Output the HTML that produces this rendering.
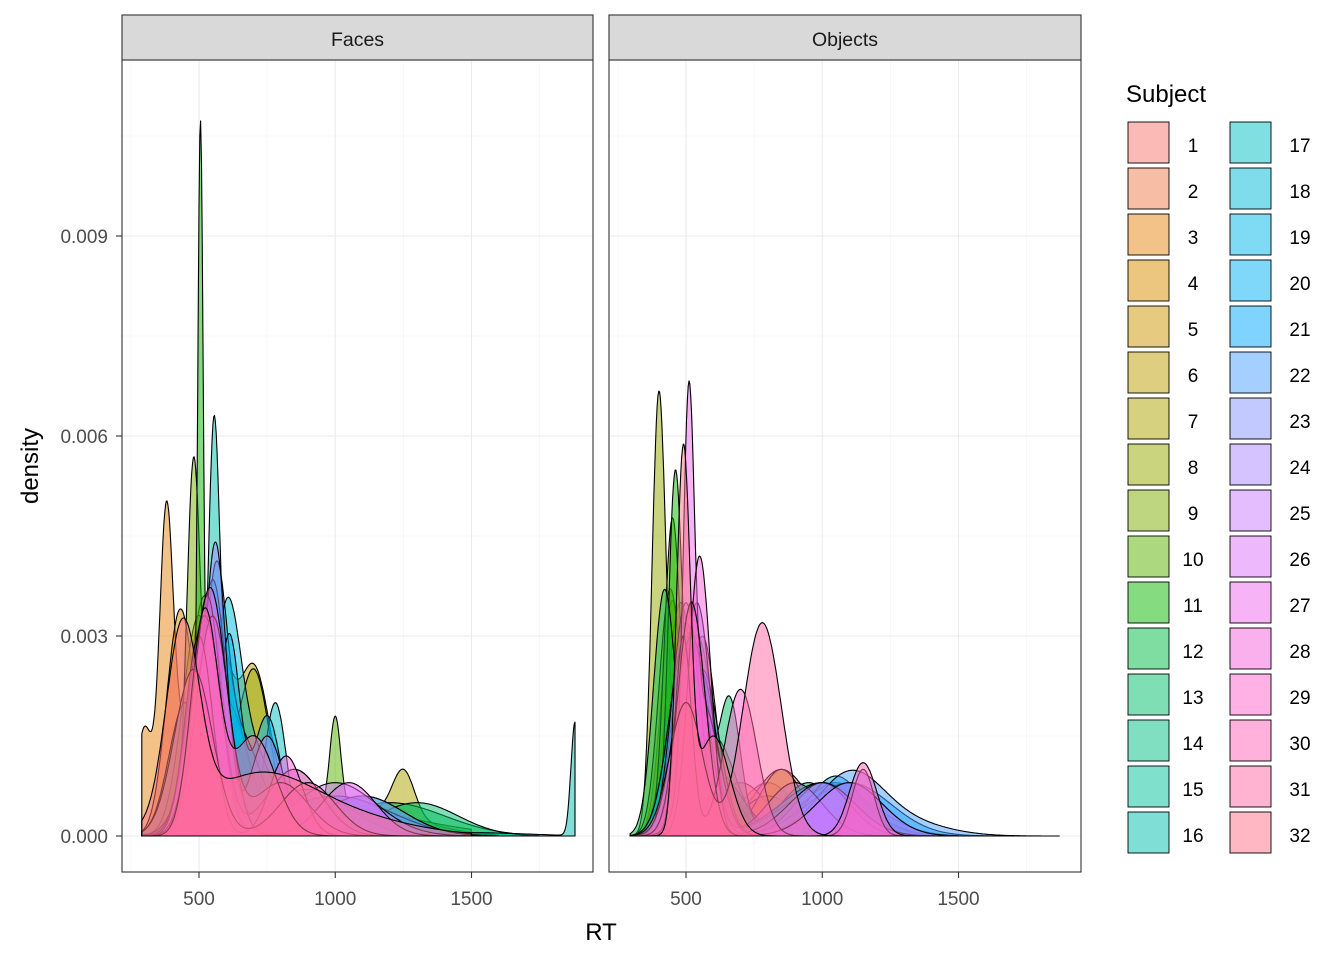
<!DOCTYPE html>
<html><head><meta charset="utf-8"><style>
body{margin:0;background:#fff}
svg{display:block;font-family:"Liberation Sans",Arial,sans-serif}
</style></head><body>
<svg id="s" width="1344" height="960" xmlns="http://www.w3.org/2000/svg"></svg>
<script>
const NS="http://www.w3.org/2000/svg";
const S=document.getElementById('s');
function el(t,a,txt){const e=document.createElementNS(NS,t);for(const k in a)e.setAttribute(k,a[k]);if(txt!=null)e.textContent=txt;S.appendChild(e);return e;}
function hcl(h){const L=65,C=100,hr=h*Math.PI/180;const u=C*Math.cos(hr),v=C*Math.sin(hr);
const Xn=95.047,Yn=100,Zn=108.883;const d=Xn+15*Yn+3*Zn,un=4*Xn/d,vn=9*Yn/d;
const Y=Yn*Math.pow((L+16)/116,3);const up=u/(13*L)+un,vp=v/(13*L)+vn;
const X=Y*9*up/(4*vp),Z=Y*(12-3*up-20*vp)/(4*vp);
const x=X/100,y=Y/100,z=Z/100;
let r=3.2406*x-1.5372*y-0.4986*z,g=-0.9689*x+1.8758*y+0.0415*z,b=0.0557*x-0.2040*y+1.0570*z;
const gm=c=>{c=c<=0.0031308?12.92*c:1.055*Math.pow(c,1/2.4)-0.055;return Math.round(Math.max(0,Math.min(1,c))*255)};
return `rgb(${gm(r)},${gm(g)},${gm(b)})`;}
const cols=[];for(let i=0;i<32;i++)cols.push(hcl(15+i*11.25));
const Y0=836,YS=200/0.003;
const panels=[{x0:122,x1:593,ox:199},{x0:609,x1:1081,ox:686}];
const PX=0.2725;
panels.forEach((p,pi)=>{
 el('rect',{x:p.x0,y:60,width:p.x1-p.x0,height:812,fill:'#fff'});
 [0.0015,0.0045,0.0075,0.0105].forEach(v=>el('line',{x1:p.x0,x2:p.x1,y1:Y0-v*YS,y2:Y0-v*YS,stroke:'#f2f2f2','stroke-width':0.6}));
 [250,750,1250,1750].forEach(v=>{const x=p.ox+(v-500)*PX;el('line',{x1:x,x2:x,y1:60,y2:872,stroke:'#f2f2f2','stroke-width':0.6})});
 [0,0.003,0.006,0.009].forEach(v=>el('line',{x1:p.x0,x2:p.x1,y1:Y0-v*YS,y2:Y0-v*YS,stroke:'#ebebeb','stroke-width':1.1}));
 [500,1000,1500].forEach(v=>{const x=p.ox+(v-500)*PX;el('line',{x1:x,x2:x,y1:60,y2:872,stroke:'#ebebeb','stroke-width':1.1})});
});
function G(x,c){let s=0;for(const[m,sd,h]of c)s+=h*1e-3*Math.exp(-0.5*((x-m)/sd)**2);return s;}
const faces=[
[1400,[[520,60,3.5],[800,150,0.6]]],[1300,[[540,70,3.0],[850,100,1.0]]],[1200,[[380,25,4.6],[300,30,1.6],[450,40,1.5],[700,150,0.5]]],
[1200,[[430,50,3.3],[600,80,1]]],[1300,[[500,60,3.3],[800,100,0.8]]],[1300,[[560,50,3.0],[700,60,2.5],[900,80,0.6]]],
[1600,[[520,50,3.3],[1250,40,0.7],[1100,200,0.4]]],[1300,[[700,60,2.5],[530,50,2.5]]],[1300,[[480,25,5.2],[600,80,1.5]]],
[1500,[[550,60,3],[1000,20,1.4],[1000,300,0.4]]],[1700,[[505,10,9.9],[560,40,2],[900,200,0.5]]],[1700,[[450,60,2],[1200,200,0.5]]],
[1750,[[530,60,3.3],[1300,150,0.5]]],[1600,[[560,80,3],[1000,200,0.6]]],[1500,[[520,60,3],[1100,150,0.6]]],
[1880,[[555,20,4.6],[600,80,2],[1880,15,1.7],[1500,200,0.05]]],[1300,[[540,50,3.3],[780,40,2]]],[1200,[[600,50,3.0],[700,80,1.2]]],
[1200,[[560,40,3.3],[650,80,1.5]]],[1300,[[610,40,3.0],[750,50,1.8]]],[1400,[[550,50,3.8],[900,150,0.7]]],
[1500,[[520,60,3],[1000,200,0.6]]],[1600,[[540,50,3.3],[1100,150,0.6]]],[1300,[[560,40,4.4],[750,60,1.5]]],
[1500,[[530,50,3.6],[1000,150,0.8]]],[1400,[[520,60,3.3],[850,100,1]]],[1500,[[550,60,3.3],[1050,100,0.8]]],
[1300,[[500,50,3],[820,60,1.2]]],[1300,[[540,60,3.7],[800,100,0.8]]],[1400,[[480,70,2.5],[900,100,0.8]]],
[1300,[[520,50,3.3],[700,80,1.5]]],[1500,[[440,60,2.9],[700,200,0.8],[1000,250,0.3]]]];
const objs=[
[1300,[[520,50,3.5],[800,100,0.8]]],[1300,[[540,60,3.0],[850,100,1.0]]],[1200,[[450,40,3.5],[700,100,0.8]]],
[1300,[[480,50,3.5],[800,100,0.6]]],[1300,[[500,60,3.2],[900,100,0.8]]],[1300,[[560,50,3.0],[850,80,1.0]]],
[1400,[[520,50,3.0],[1000,150,0.6]]],[1200,[[400,25,6.3],[500,60,1.5]]],[1200,[[440,40,3.5],[600,80,1.5]]],
[1200,[[450,30,4.6],[600,80,1]]],[1200,[[460,25,5.0],[550,60,1.5]]],[1300,[[420,40,3.5],[600,100,1]]],
[1500,[[660,40,2.0],[500,60,3],[950,100,0.8]]],[1500,[[520,60,2.8],[1000,150,0.8]]],[1500,[[500,50,3],[1000,150,0.7]]],
[1500,[[550,60,2.5],[1050,150,0.7]]],[1500,[[520,50,3],[1000,150,0.8]]],[1600,[[540,60,2.5],[1050,120,0.8]]],
[1600,[[560,60,2.5],[1100,120,0.8]]],[1700,[[500,60,3],[1050,100,0.9]]],[1700,[[540,60,2.5],[1100,150,0.8]]],
[1870,[[550,60,2.5],[1100,120,0.9],[1300,150,0.2]]],[1600,[[520,50,3],[1000,100,0.8]]],[1500,[[540,50,3.5],[900,100,0.8]]],
[1500,[[500,50,3.5],[1000,120,0.8]]],[1500,[[520,60,3],[1100,120,0.8]]],[1300,[[510,20,5.4],[560,60,2]]],
[1400,[[550,40,4.2],[1150,40,1.0]]],[1300,[[490,30,3],[700,60,2.2]]],[1400,[[520,50,3.5],[1150,50,1.1]]],
[1300,[[780,70,3.2],[500,60,2]]],[1200,[[490,25,5.6],[600,60,1.5]]]];
[faces,objs].forEach((set,pi)=>{
 const p=panels[pi];const lo=pi?295:290;
 set.forEach(([hi,c],i)=>{
  let d=`M${(p.ox+(lo-500)*PX).toFixed(1)},${Y0}`;
  for(let x=lo;x<=hi;x+=3){d+=`L${(p.ox+(x-500)*PX).toFixed(1)},${(Y0-G(x,c)*YS).toFixed(1)}`;}
  d+=`L${(p.ox+(hi-500)*PX).toFixed(1)},${Y0}Z`;
  el('path',{d,fill:cols[i],'fill-opacity':0.5,stroke:'#000','stroke-width':1.1,'stroke-linejoin':'round'});
 });
});
panels.forEach((p,pi)=>{
 el('rect',{x:p.x0,y:60,width:p.x1-p.x0,height:812,fill:'none',stroke:'#333','stroke-width':1.1});
 el('rect',{x:p.x0,y:15,width:p.x1-p.x0,height:45,fill:'#d9d9d9',stroke:'#333','stroke-width':1.1});
 el('text',{x:(p.x0+p.x1)/2,y:46,'text-anchor':'middle','font-size':'19.5',fill:'#1a1a1a'},pi?'Objects':'Faces');
 [500,1000,1500].forEach(v=>{const x=p.ox+(v-500)*PX;el('line',{x1:x,x2:x,y1:872,y2:878,stroke:'#333','stroke-width':1.1});
  el('text',{x,y:905,'text-anchor':'middle','font-size':'19',fill:'#4d4d4d'},String(v));});
});
[0,0.003,0.006,0.009].forEach(v=>{const y=Y0-v*YS;el('line',{x1:116,x2:122,y1:y,y2:y,stroke:'#333','stroke-width':1.1});
 el('text',{x:108,y:y+7,'text-anchor':'end','font-size':'19',fill:'#4d4d4d'},v.toFixed(3));});
el('text',{x:601,y:940,'text-anchor':'middle','font-size':'24'},'RT');
el('text',{x:38,y:466,'text-anchor':'middle','font-size':'24',transform:'rotate(-90 38 466)'},'density');
el('text',{x:1126,y:102,'font-size':'24'},'Subject');
for(let i=0;i<32;i++){const c=i<16?0:1,r=i%16;const x=c?1230:1128,y=122+r*46;
 el('rect',{x,y,width:41,height:41,fill:'#fff'});
 el('rect',{x,y,width:41,height:41,fill:cols[i],'fill-opacity':0.5,stroke:'#000','stroke-width':0.9});
 el('text',{x:c?1300:1193,y:y+30,'text-anchor':'middle','font-size':'19'},String(i+1));}
</script>
</body></html>
